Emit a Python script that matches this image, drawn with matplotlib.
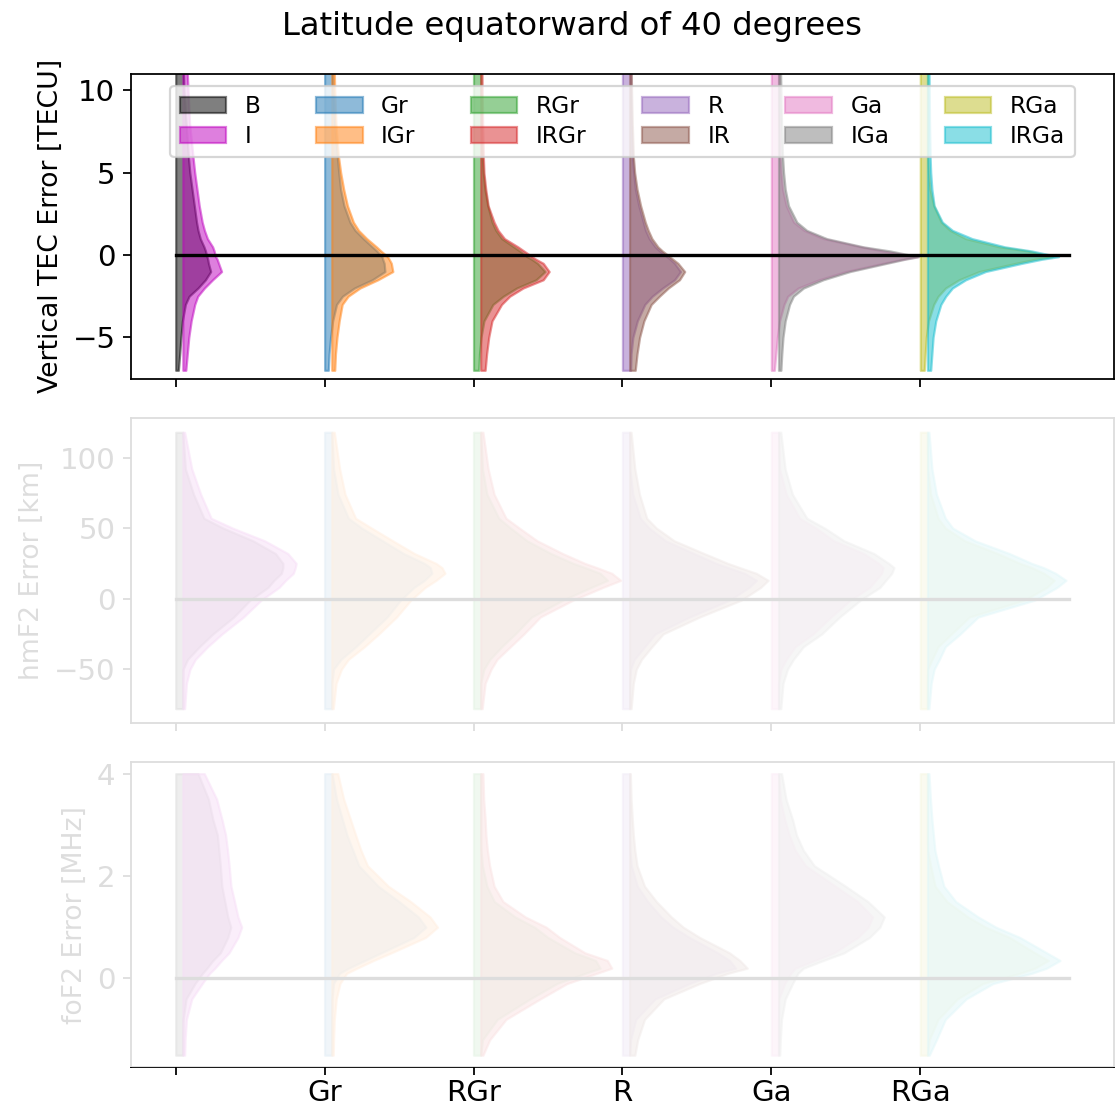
import numpy as np
import matplotlib.pyplot as plt
from matplotlib.patches import Rectangle

# model names / colours (base model, then its "I" variant)
models = ['B', 'I', 'Gr', 'IGr', 'RGr', 'IRGr', 'R', 'IR', 'Ga', 'IGa', 'RGa', 'IRGa']
colors = ['k', 'm', 'tab:blue', 'tab:orange', 'tab:green', 'tab:red',
          'tab:purple', 'tab:brown', 'tab:pink', 'tab:gray', 'tab:olive', 'tab:cyan']
tick_labels = ['', 'Gr', 'RGr', 'R', 'Ga', 'RGa']

# --- vertical TEC error [TECU]: half-violin widths
y_tec = [-7, -6, -5, -4, -3, -2.5, -2, -1.5, -1, -0.5, -0.25, -0.1, 0.25, 0.5, 1, 1.5, 2, 3, 4, 5, 6, 8, 10, 12]
tec_B = [0.018, 0.027, 0.035, 0.045, 0.065, 0.09, 0.15, 0.2, 0.235, 0.22, 0.215, 0.21, 0.2, 0.19, 0.165, 0.15, 0.14, 0.125, 0.11, 0.095, 0.085, 0.07, 0.055, 0.05]
tec_I = [0.02, 0.03, 0.04, 0.056, 0.08, 0.1, 0.145, 0.2, 0.26, 0.24, 0.23, 0.22, 0.21, 0.2, 0.165, 0.145, 0.13, 0.11, 0.095, 0.08, 0.068, 0.045, 0.035, 0.025]
tec_Gr = [0.025, 0.03, 0.04, 0.054, 0.08, 0.12, 0.2, 0.32, 0.405, 0.4, 0.39, 0.385, 0.35, 0.32, 0.26, 0.205, 0.17, 0.13, 0.107, 0.095, 0.085, 0.067, 0.055, 0.05]
tec_IGr = [0.02, 0.025, 0.035, 0.05, 0.07, 0.11, 0.19, 0.31, 0.41, 0.4, 0.385, 0.375, 0.33, 0.3, 0.235, 0.18, 0.145, 0.105, 0.08, 0.06, 0.045, 0.028, 0.02, 0.015]
tec_RGr = [0.035, 0.04, 0.05, 0.07, 0.13, 0.2, 0.29, 0.42, 0.48, 0.43, 0.39, 0.36, 0.31, 0.27, 0.19, 0.15, 0.125, 0.095, 0.076, 0.065, 0.058, 0.052, 0.05, 0.048]
tec_IRGr = [0.03, 0.04, 0.054, 0.076, 0.14, 0.195, 0.285, 0.42, 0.46, 0.42, 0.37, 0.345, 0.29, 0.25, 0.16, 0.117, 0.09, 0.05, 0.034, 0.022, 0.018, 0.013, 0.01, 0.008]
tec_R = [0.055, 0.058, 0.07, 0.1, 0.15, 0.2, 0.27, 0.35, 0.39, 0.35, 0.32, 0.3, 0.25, 0.22, 0.18, 0.155, 0.14, 0.11, 0.087, 0.075, 0.066, 0.06, 0.056, 0.055]
tec_IR = [0.038, 0.05, 0.067, 0.096, 0.145, 0.2, 0.26, 0.335, 0.37, 0.325, 0.29, 0.27, 0.22, 0.19, 0.15, 0.125, 0.105, 0.074, 0.05, 0.034, 0.025, 0.018, 0.013, 0.01]
tec_Ga = [0.02, 0.03, 0.04, 0.055, 0.085, 0.11, 0.18, 0.32, 0.5, 0.75, 0.88, 0.98, 0.75, 0.6, 0.35, 0.22, 0.15, 0.1, 0.075, 0.065, 0.058, 0.052, 0.05, 0.05]
tec_IGa = [0.016, 0.022, 0.03, 0.045, 0.074, 0.1, 0.168, 0.3, 0.48, 0.726, 0.85, 0.94, 0.75, 0.57, 0.324, 0.19, 0.123, 0.067, 0.045, 0.034, 0.027, 0.02, 0.016, 0.012]
tec_RGa = [0.027, 0.033, 0.04, 0.055, 0.09, 0.12, 0.17, 0.26, 0.395, 0.64, 0.77, 0.885, 0.72, 0.53, 0.305, 0.2, 0.14, 0.09, 0.065, 0.055, 0.05, 0.05, 0.05, 0.05]
tec_IRGa = [0.022, 0.03, 0.038, 0.056, 0.09, 0.123, 0.168, 0.257, 0.39, 0.635, 0.77, 0.88, 0.7, 0.52, 0.3, 0.168, 0.1, 0.045, 0.03, 0.022, 0.018, 0.014, 0.012, 0.01]

# --- hmF2 error [km]
y_hmf = [-78, -60, -50, -43, -34, -25, -13, -1, 8, 13, 18, 22, 25, 32, 41, 50, 57, 74, 92, 118]
hmf_B = [0.048, 0.048, 0.05, 0.08, 0.16, 0.25, 0.39, 0.5, 0.62, 0.66, 0.71, 0.72, 0.72, 0.67, 0.52, 0.32, 0.19, 0.12, 0.065, 0.048]
hmf_I = [0.012, 0.024, 0.048, 0.084, 0.167, 0.263, 0.407, 0.526, 0.646, 0.69, 0.742, 0.755, 0.761, 0.705, 0.55, 0.335, 0.19, 0.12, 0.06, 0.012]
hmf_Gr = [0.048, 0.048, 0.06, 0.11, 0.21, 0.3, 0.42, 0.51, 0.6, 0.67, 0.72, 0.71, 0.67, 0.53, 0.39, 0.25, 0.16, 0.09, 0.06, 0.048]
hmf_IGr = [0.01, 0.029, 0.065, 0.112, 0.22, 0.316, 0.435, 0.531, 0.627, 0.7, 0.76, 0.74, 0.7, 0.555, 0.41, 0.268, 0.16, 0.089, 0.053, 0.017]
hmf_RGr = [0.048, 0.048, 0.07, 0.11, 0.19, 0.28, 0.39, 0.6, 0.79, 0.9, 0.85, 0.75, 0.67, 0.52, 0.36, 0.25, 0.17, 0.09, 0.06, 0.048]
hmf_IRGr = [0.01, 0.03, 0.07, 0.11, 0.2, 0.29, 0.4, 0.62, 0.82, 0.94, 0.88, 0.78, 0.7, 0.55, 0.38, 0.26, 0.17, 0.09, 0.05, 0.015]
hmf_R = [0.048, 0.048, 0.055, 0.08, 0.15, 0.22, 0.45, 0.72, 0.85, 0.9, 0.82, 0.71, 0.63, 0.48, 0.29, 0.18, 0.12, 0.07, 0.05, 0.048]
hmf_IR = [0.01, 0.025, 0.045, 0.08, 0.15, 0.225, 0.47, 0.75, 0.88, 0.93, 0.85, 0.74, 0.66, 0.5, 0.3, 0.18, 0.115, 0.066, 0.035, 0.01]
hmf_Ga = [0.048, 0.048, 0.065, 0.1, 0.16, 0.28, 0.4, 0.53, 0.66, 0.7, 0.74, 0.75, 0.72, 0.62, 0.42, 0.3, 0.19, 0.1, 0.055, 0.048]
hmf_IGa = [0.015, 0.03, 0.06, 0.1, 0.167, 0.29, 0.41, 0.55, 0.68, 0.72, 0.76, 0.775, 0.74, 0.64, 0.44, 0.31, 0.19, 0.093, 0.044, 0.015]
hmf_RGa = [0.048, 0.048, 0.05, 0.08, 0.12, 0.21, 0.33, 0.7, 0.85, 0.9, 0.83, 0.75, 0.67, 0.52, 0.3, 0.17, 0.12, 0.07, 0.05, 0.048]
hmf_IRGa = [0.01, 0.025, 0.045, 0.08, 0.12, 0.22, 0.34, 0.72, 0.87, 0.93, 0.86, 0.78, 0.7, 0.55, 0.32, 0.17, 0.12, 0.06, 0.03, 0.01]

# --- foF2 error [MHz]
y_fof = [-1.5, -1.2, -0.8, -0.4, -0.1, 0.1, 0.2, 0.35, 0.5, 0.8, 1.0, 1.2, 1.5, 1.8, 2.2, 2.5, 2.8, 3.1, 3.5, 4.0]
fof_B = [0.048, 0.048, 0.05, 0.07, 0.13, 0.18, 0.21, 0.25, 0.3, 0.35, 0.37, 0.35, 0.33, 0.31, 0.3, 0.29, 0.28, 0.25, 0.22, 0.15]
fof_I = [0.012, 0.015, 0.024, 0.06, 0.13, 0.18, 0.215, 0.26, 0.31, 0.37, 0.395, 0.37, 0.347, 0.323, 0.311, 0.3, 0.287, 0.263, 0.227, 0.144]
fof_Gr = [0.048, 0.048, 0.048, 0.05, 0.06, 0.1, 0.16, 0.27, 0.38, 0.6, 0.68, 0.63, 0.5, 0.36, 0.23, 0.19, 0.15, 0.12, 0.08, 0.05]
fof_IGr = [0.01, 0.012, 0.017, 0.03, 0.055, 0.1, 0.17, 0.28, 0.4, 0.63, 0.71, 0.66, 0.53, 0.38, 0.24, 0.196, 0.16, 0.126, 0.08, 0.04]
fof_RGr = [0.048, 0.06, 0.16, 0.38, 0.56, 0.75, 0.85, 0.82, 0.68, 0.5, 0.41, 0.28, 0.14, 0.09, 0.06, 0.05, 0.048, 0.048, 0.048, 0.048]
fof_IRGr = [0.015, 0.06, 0.17, 0.4, 0.58, 0.78, 0.88, 0.85, 0.7, 0.53, 0.44, 0.3, 0.15, 0.09, 0.06, 0.045, 0.035, 0.03, 0.02, 0.015]
fof_R = [0.048, 0.055, 0.09, 0.22, 0.45, 0.63, 0.76, 0.72, 0.64, 0.45, 0.34, 0.26, 0.17, 0.1, 0.06, 0.05, 0.048, 0.048, 0.048, 0.048]
fof_IR = [0.035, 0.054, 0.1, 0.23, 0.47, 0.66, 0.79, 0.74, 0.67, 0.47, 0.36, 0.28, 0.18, 0.1, 0.05, 0.035, 0.025, 0.018, 0.01, 0.005]
fof_Ga = [0.048, 0.048, 0.048, 0.05, 0.09, 0.13, 0.16, 0.29, 0.42, 0.58, 0.65, 0.68, 0.58, 0.43, 0.23, 0.16, 0.12, 0.09, 0.06, 0.048]
fof_IGa = [0.008, 0.012, 0.02, 0.045, 0.094, 0.13, 0.167, 0.3, 0.44, 0.61, 0.68, 0.71, 0.6, 0.45, 0.24, 0.167, 0.12, 0.094, 0.05, 0.02]
fof_RGa = [0.048, 0.06, 0.12, 0.25, 0.42, 0.67, 0.77, 0.86, 0.77, 0.6, 0.44, 0.32, 0.18, 0.1, 0.07, 0.05, 0.048, 0.048, 0.048, 0.048]
fof_IRGa = [0.012, 0.06, 0.12, 0.26, 0.44, 0.7, 0.8, 0.89, 0.8, 0.62, 0.46, 0.34, 0.19, 0.11, 0.074, 0.05, 0.04, 0.03, 0.02, 0.01]

panels = [
    (y_tec, [tec_B, tec_I, tec_Gr, tec_IGr, tec_RGr, tec_IRGr, tec_R, tec_IR, tec_Ga, tec_IGa, tec_RGa, tec_IRGa],
     'Vertical TEC Error [TECU]', (-7.5, 11), [-5, 0, 5, 10]),
    (y_hmf, [hmf_B, hmf_I, hmf_Gr, hmf_IGr, hmf_RGr, hmf_IRGr, hmf_R, hmf_IR, hmf_Ga, hmf_IGa, hmf_RGa, hmf_IRGa],
     'hmF2 Error [km]', (-88, 128), [-50, 0, 50, 100]),
    (y_fof, [fof_B, fof_I, fof_Gr, fof_IGr, fof_RGr, fof_IRGr, fof_R, fof_IR, fof_Ga, fof_IGa, fof_RGa, fof_IRGa],
     'foF2 Error [MHz]', (-1.73, 4.22), [0, 2, 4]),
]

offset = 0.048  # "I" variants sit slightly to the right of the base model

fig, axs = plt.subplots(3, 1, figsize=(1115 / 160, 1109 / 160), dpi=160, sharex=True)
fig.subplots_adjust(left=0.1175, right=0.999, top=0.9333, bottom=0.0379, hspace=0.13)

for ax, (yy, widths, ylabel, ylim, yticks) in zip(axs, panels):
    for k, (name, c, w) in enumerate(zip(models, colors, widths)):
        x0 = k // 2 + (offset if k % 2 else 0.0)
        ax.fill_betweenx(yy, x0, x0 + np.array(w), color=c, alpha=0.5, label=name)
    ax.plot([0, 6], [0, 0], color='k', lw=1.5)
    ax.set_ylabel(ylabel, fontsize=12)
    ax.set_ylim(ylim)
    ax.set_yticks(yticks)
    ax.tick_params(labelsize=13.2)

axs[0].set_xlim(-0.3, 6.3)
axs[2].set_xticks(range(6))
axs[2].set_xticklabels(tick_labels)
axs[2].tick_params(axis='x', pad=2)
axs[0].legend(loc='upper center', ncol=6, fontsize=10.5, columnspacing=2.36, labelspacing=0.3)

fig.suptitle('Latitude equatorward of 40 degrees', fontsize=14.5, x=0.513, y=0.99)

# lower two panels are greyed out with a white veil
b3 = axs[2].get_position()
veil = Rectangle((0, b3.y0), 1, 0.64 - b3.y0, transform=fig.transFigure,
                 facecolor='white', alpha=0.87, edgecolor='none', zorder=10)
fig.add_artist(veil)

plt.savefig('out.png', dpi=160)
